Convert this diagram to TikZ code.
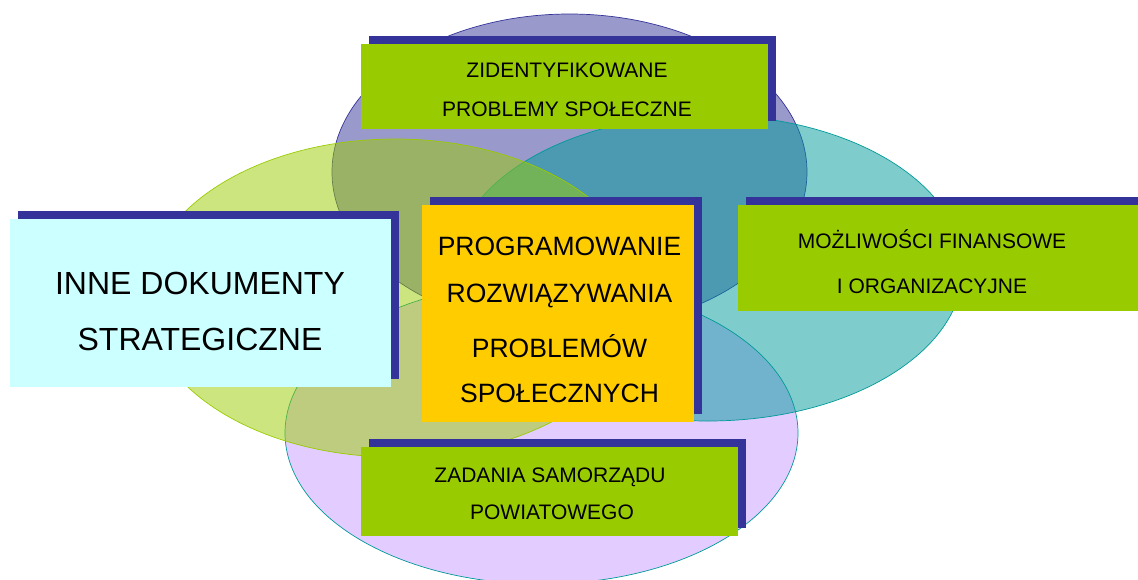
\documentclass[tikz,border=0pt]{standalone}
\usepackage{fontspec}
\setmainfont{Liberation Sans}
\usetikzlibrary{shadows}
\definecolor{navy}{HTML}{333399}
\definecolor{lime}{HTML}{99CC00}
\definecolor{tealc}{HTML}{009999}
\definecolor{lav}{HTML}{C799FF}
\definecolor{cyanbox}{HTML}{CCFFFF}
\definecolor{yel}{HTML}{FFCC00}
\begin{document}
\begin{tikzpicture}[x=1pt,y=-1pt,
  ell/.style={fill opacity=.5, line width=0.7pt},
  box/.style={rectangle, inner sep=0pt, draw=none,
    general shadow={fill=navy, shadow xshift=8pt, shadow yshift=8pt}},
  greenbox/.style={box, fill=lime},
  lblsmall/.style={anchor=base, inner sep=0pt, font=\fontsize{21}{25}\selectfont},
  lblmid/.style={anchor=base, inner sep=0pt, font=\fontsize{26.5}{30}\selectfont},
  lblbig/.style={anchor=base, inner sep=0pt, font=\fontsize{32}{36}\selectfont}]
\useasboundingbox (0,0) rectangle (1138,579);
% ellipses
\draw[ell, fill=navy, draw=navy] (569.5,172) ellipse [x radius=237.5, y radius=158];
\draw[ell, fill=lav, draw=tealc] (541.5,433) ellipse [x radius=256.5, y radius=151];
\draw[ell, fill=tealc, draw=tealc] (708,268) ellipse [x radius=255, y radius=153];
\draw[ell, fill=lime, draw=lime] (395,298) ellipse [x radius=250, y radius=159];
% boxes
\node[greenbox, minimum width=407, minimum height=85] (zidbox) at (564.5,86.5) {};
\node[greenbox, minimum width=400, minimum height=106] (mozbox) at (938,258) {};
\node[box, fill=cyanbox, minimum width=381, minimum height=168] (innebox) at (200.5,303) {};
\node[box, fill=yel, minimum width=272, minimum height=217] (progbox) at (558,313.5) {};
\node[greenbox, minimum width=377, minimum height=89] (zadbox) at (549.5,491.5) {};
% texts
\node[lblsmall] (zid1) at (567,77) {ZIDENTYFIKOWANE};
\node[lblsmall] (zid2) at (567,116) {PROBLEMY SPOŁECZNE};
\node[lblsmall] (moz1) at (932,248) {MOŻLIWOŚCI FINANSOWE};
\node[lblsmall] (moz2) at (932,293) {I ORGANIZACYJNE};
\node[lblbig] (inne1) at (200,294) {INNE DOKUMENTY};
\node[lblbig] (inne2) at (200,350) {STRATEGICZNE};
\node[lblmid] (prog1) at (559.5,255) {PROGRAMOWANIE};
\node[lblmid] (prog2) at (559.5,302) {ROZWIĄZYWANIA};
\node[lblmid] (prog3) at (559.5,357) {PROBLEMÓW};
\node[lblmid] (prog4) at (559.5,402) {SPOŁECZNYCH};
\node[lblsmall] (zad1) at (550,482) {ZADANIA SAMORZĄDU};
\node[lblsmall] (zad2) at (552,519) {POWIATOWEGO};
\end{tikzpicture}
\end{document}
